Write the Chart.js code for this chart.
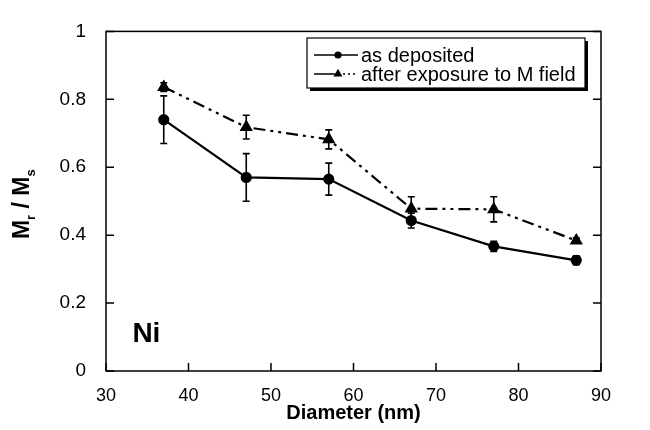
<!DOCTYPE html>
<html>
<head>
<meta charset="utf-8">
<script src="https://cdn.jsdelivr.net/npm/chart.js@4"></script>
<style>
  body { margin: 0; background: #fff; }
</style>
</head>
<body>
<canvas id="c" width="650" height="430"></canvas>
<script>
// values
const diameters = [37, 47, 57, 67, 77, 87];
const asDeposited = [0.74, 0.57, 0.565, 0.443, 0.367, 0.326];
const asDepositedErr = [0.07, 0.07, 0.047, 0.022, 0.015, 0.013];
const afterField = [0.836, 0.718, 0.682, 0.478, 0.476, 0.384];
const afterFieldErr = [0.013, 0.035, 0.028, 0.035, 0.037, 0.008];
const xTicks = [30, 40, 50, 60, 70, 80, 90];
const yTicks = [0, 0.2, 0.4, 0.6, 0.8, 1];
const seriesNames = ['as deposited', 'after exposure to M field'];

const FONT = "'Liberation Sans', Arial, Helvetica, sans-serif";

const toPoints = (ys) => diameters.map((x, i) => ({ x: x, y: ys[i] }));

// error bars, drawn through the chart scales
const errorBars = {
  id: 'errorBars',
  beforeDatasetsDraw(chart) {
    const ctx = chart.ctx;
    const xs = chart.scales.x, ys = chart.scales.y;
    const errs = [asDepositedErr, afterFieldErr];
    ctx.save();
    ctx.strokeStyle = '#000';
    ctx.lineWidth = 1.6;
    chart.data.datasets.forEach((ds, d) => {
      ds.data.forEach((p, i) => {
        const e = errs[d][i];
        const px = xs.getPixelForValue(p.x);
        const top = ys.getPixelForValue(p.y + e);
        const bot = ys.getPixelForValue(p.y - e);
        ctx.beginPath();
        ctx.moveTo(px, top); ctx.lineTo(px, bot);
        ctx.moveTo(px - 3.5, top); ctx.lineTo(px + 3.5, top);
        ctx.moveTo(px - 3.5, bot); ctx.lineTo(px + 3.5, bot);
        ctx.stroke();
      });
    });
    ctx.restore();
  }
};

// frame, inward ticks, y title with subscripts, legend box, "Ni" label
const decorations = {
  id: 'decorations',
  afterDraw(chart) {
    const ctx = chart.ctx;
    const a = chart.chartArea;
    const xs = chart.scales.x, ys = chart.scales.y;
    ctx.save();
    ctx.strokeStyle = '#000';
    ctx.lineWidth = 1.5;
    ctx.strokeRect(a.left, a.top, a.right - a.left, a.bottom - a.top);

    ctx.beginPath();
    xTicks.forEach(v => {
      const px = xs.getPixelForValue(v);
      ctx.moveTo(px, a.bottom); ctx.lineTo(px, a.bottom - 8);
    });
    yTicks.forEach(v => {
      const py = ys.getPixelForValue(v);
      ctx.moveTo(a.left, py); ctx.lineTo(a.left + 8, py);
      ctx.moveTo(a.right, py); ctx.lineTo(a.right - 8, py);
    });
    ctx.stroke();

    // y axis title  M_r / M_s
    ctx.save();
    ctx.translate(29, (a.top + a.bottom) / 2 + 3);
    ctx.rotate(-Math.PI / 2);
    ctx.fillStyle = '#000';
    ctx.textBaseline = 'alphabetic';
    const big = 'bold 23px ' + FONT, small = 'bold 13px ' + FONT;
    const parts = [['M', big, 0], ['r', small, 6], [' / M', big, 0], ['s', small, 6]];
    let w = 0;
    parts.forEach(p => { ctx.font = p[1]; w += ctx.measureText(p[0]).width; });
    let x = -w / 2;
    parts.forEach(p => {
      ctx.font = p[1];
      ctx.fillText(p[0], x, p[2]);
      x += ctx.measureText(p[0]).width;
    });
    ctx.restore();

    // "Ni" label
    ctx.fillStyle = '#000';
    ctx.font = 'bold 28px ' + FONT;
    ctx.textBaseline = 'alphabetic';
    ctx.fillText('Ni', xs.getPixelForValue(33.2), ys.getPixelForValue(0.085));

    // legend box
    const bx = 307, by = 38, bw = 278, bh = 50;
    ctx.fillRect(bx + 3, by + bh, bw, 3);
    ctx.fillRect(bx + bw, by + 3, 3, bh);
    ctx.lineWidth = 1.2;
    ctx.strokeRect(bx, by, bw, bh);
    chart.data.datasets.forEach((ds, i) => {
      const ly = by + 17 + i * 19;
      ctx.save();
      ctx.lineWidth = 1.5;
      ctx.beginPath();
      if (ds.borderDash) {
        ctx.moveTo(bx + 7, ly); ctx.lineTo(bx + 28, ly);
        ctx.stroke();
        ctx.setLineDash([2, 3]);
        ctx.beginPath();
        ctx.moveTo(bx + 36, ly); ctx.lineTo(bx + 51, ly);
      } else {
        ctx.moveTo(bx + 7, ly); ctx.lineTo(bx + 51, ly);
      }
      ctx.stroke();
      ctx.restore();
      Chart.helpers.drawPoint(ctx, {
        pointStyle: ds.pointStyle, radius: ds.pointRadius - 1.5, borderWidth: 1
      }, bx + 31, ly);
      ctx.fillStyle = '#000';
      ctx.font = '20px ' + FONT;
      ctx.textBaseline = 'middle';
      ctx.fillText(seriesNames[i], bx + 54, ly + 1);
    });
    ctx.restore();
  }
};

new Chart(document.getElementById('c'), {
  type: 'line',
  data: {
    datasets: [
      {
        label: seriesNames[0],
        data: toPoints(asDeposited),
        borderColor: '#000', backgroundColor: '#000',
        borderWidth: 2.2,
        pointStyle: 'circle', pointRadius: 4.5,
        tension: 0
      },
      {
        label: seriesNames[1],
        data: toPoints(afterField),
        borderColor: '#000', backgroundColor: '#000',
        borderWidth: 2.2,
        borderDash: [12, 5, 3, 5, 3, 5],
        pointStyle: 'triangle', pointRadius: 5.5,
        tension: 0
      }
    ]
  },
  options: {
    responsive: false,
    animation: false,
    devicePixelRatio: 1,
    layout: { padding: { left: 0, top: 18, right: 49, bottom: 0 } },
    plugins: { legend: { display: false }, tooltip: { enabled: false } },
    scales: {
      x: {
        type: 'linear', min: 30, max: 90,
        afterBuildTicks: s => { s.ticks = xTicks.map(v => ({ value: v })); },
        afterFit: s => { s.height = 59; },
        grid: { display: false, drawTicks: false },
        border: { display: false },
        ticks: { color: '#000', padding: 14, font: { family: FONT, size: 18 } },
        title: {
          display: true, text: 'Diameter (nm)', color: '#000',
          font: { family: FONT, size: 20, weight: 'bold' },
          padding: { top: 0, bottom: 5 }
        }
      },
      y: {
        type: 'linear', min: 0, max: 1,
        afterBuildTicks: s => { s.ticks = yTicks.map(v => ({ value: v })); },
        afterFit: s => { s.width = 106; },
        grid: { display: false, drawTicks: false },
        border: { display: false },
        ticks: {
          color: '#000', padding: 20, font: { family: FONT, size: 19 },
          callback: v => String(v)
        }
      }
    }
  },
  plugins: [errorBars, decorations]
});
</script>
</body>
</html>
